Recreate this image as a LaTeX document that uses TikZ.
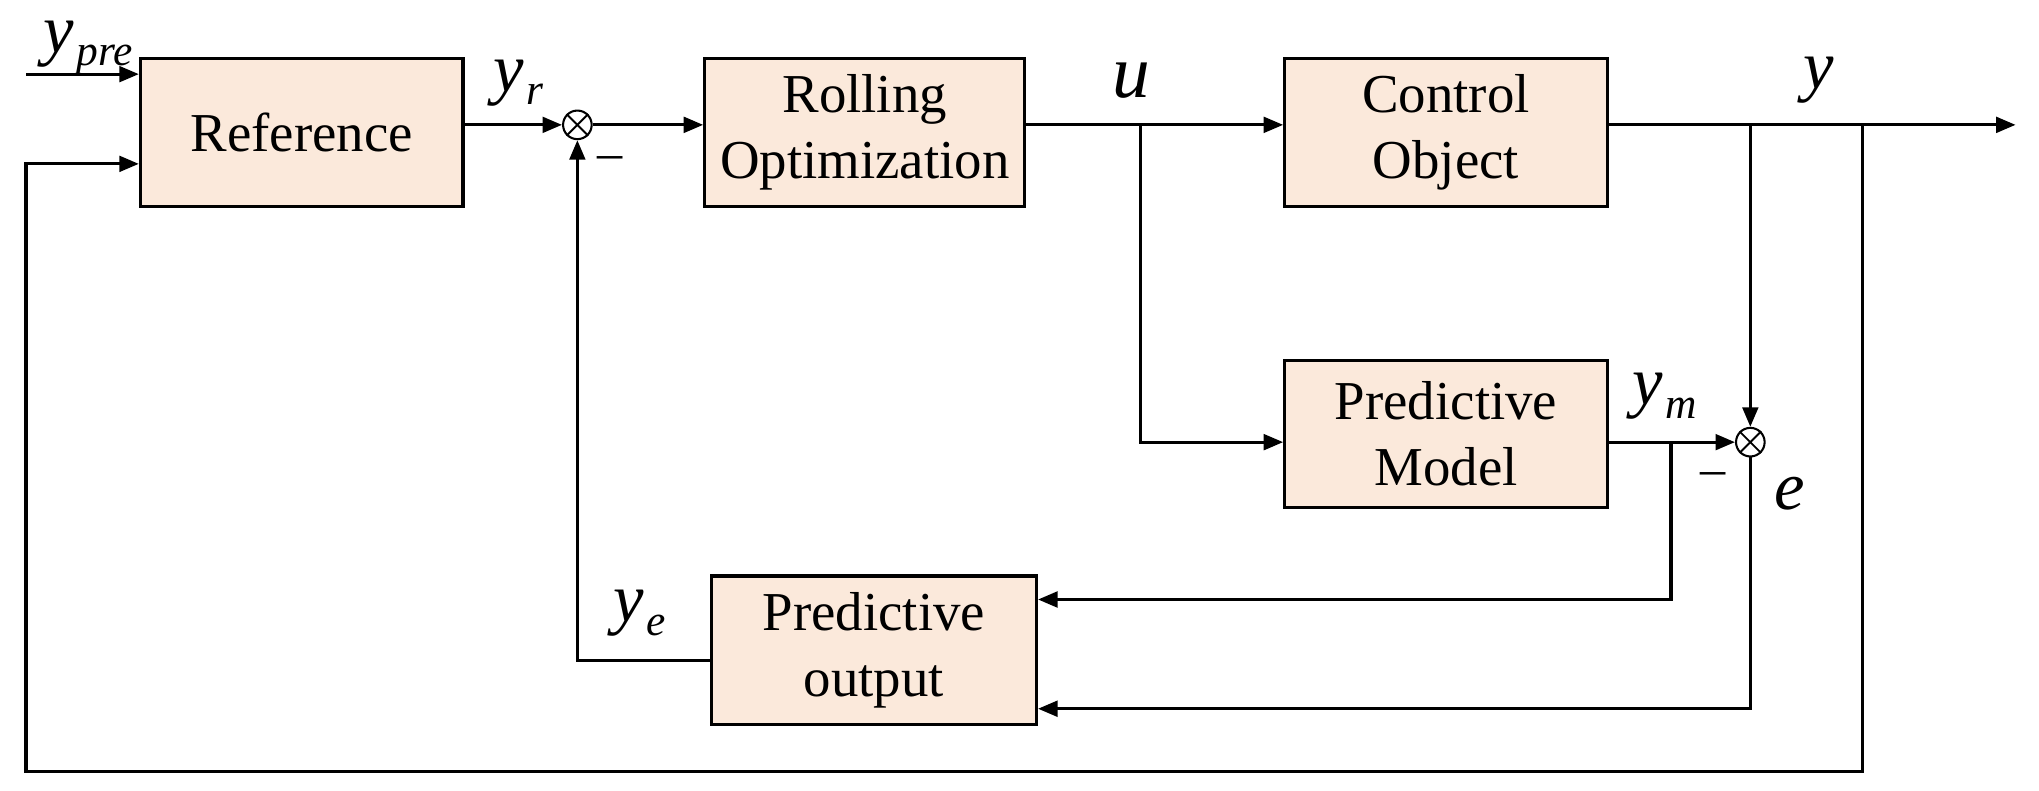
\documentclass[tikz,border=0pt]{standalone}
\usepackage{fontspec}
\setmainfont{Liberation Serif}
\usetikzlibrary{arrows.meta,positioning,calc}
\definecolor{boxfill}{RGB}{251,233,219}
\newcommand{\sig}[2]{\textit{#1}\hspace{0.5pt}\raisebox{-3pt}{\fontsize{9.5}{11}\selectfont\textit{#2}}}

\begin{document}
\begin{tikzpicture}[
    block/.style={draw, line width=0.7pt, fill=boxfill, minimum height=1.14cm,
        align=center, font=\fontsize{12}{14.5}\selectfont},
    sumnode/.style={draw, circle, line width=0.45pt, minimum size=0.22cm, inner sep=0pt},
    lbl/.style={inner sep=0pt, anchor=base west, font=\fontsize{15}{18}\selectfont},
    sgn/.style={inner sep=0pt, font=\fontsize{11}{12}\selectfont},
    arrow/.style={line width=0.7pt, -{Triangle[length=0.15cm, width=0.12cm]}},
    wire/.style={line width=0.7pt}
]
\useasboundingbox (0,0) rectangle (15.68,-6.08);

% blocks
\node[block, minimum width=2.48cm] (ref)   at (2.32,-1.02) {Reference};
\node[block, minimum width=2.36cm] (roll)  at (6.65,-1.02) {Rolling\\Optimization};
\node[block, minimum width=2.48cm] (ctrl)  at (11.12,-1.02) {Control\\Object};
\node[block, minimum width=2.48cm, minimum height=1.13cm] (model) at (11.12,-3.335) {Predictive\\Model};
\node[block, minimum width=2.50cm] (pout)  at (6.72,-5.00) {Predictive\\output};

% summing points
\node[sumnode] (sum1) at (4.44,-0.96) {};
\node[sumnode] (sum2) at (13.46,-3.40) {};
\foreach \s in {sum1,sum2} {
  \draw[line width=0.4pt] (\s.north east) -- (\s.south west)
                          (\s.north west) -- (\s.south east);
}

% branch points
\coordinate (in1) at (0.20,-0.57);
\coordinate (in2) at (0.20,-1.26);
\coordinate (bl)  at (0.20,-5.93);
\coordinate (uj)  at (8.77,-0.96);
\coordinate (yj)  at (13.46,-0.96);
\coordinate (fb)  at (14.32,-0.96);
\coordinate (out) at (15.50,-0.96);
\coordinate (mj)  at (12.85,-3.40);

% forward path
\draw[arrow] (in1) -- (ref.west |- in1);
\draw[arrow] (ref.east |- sum1) -- (sum1);
\draw[arrow] (sum1) -- (roll.west |- sum1);
\draw[arrow] (roll.east |- uj) -- (ctrl.west |- uj);
\draw[arrow] (uj) |- (model.west |- sum2);
\draw[arrow] (ctrl.east |- out) -- (out);

% error and feedback
\draw[arrow] (yj) -- (sum2);
\draw[arrow] (model.east |- sum2) -- (sum2);
\draw[arrow] (mj) |- ([yshift=0.39cm]pout.east);
\draw[arrow] (sum2) |- ([yshift=-0.45cm]pout.east);
\draw[arrow] ([yshift=-0.08cm]pout.west) -| (sum1);
\draw[arrow] (fb) |- (bl) |- (in2 -| ref.west);

% labels
\node[lbl] (lpre) at (0.33,-0.40) {\sig{y}{pre}};
\node[lbl] (lr)   at (3.79,-0.70) {\sig{y}{r}};
\node[lbl, font=\fontsize{16.5}{19}\selectfont] (lu) at (8.55,-0.75) {\textit{u}};
\node[lbl] (ly)   at (13.86,-0.68) {\textit{y}};
\node[lbl] (lm)   at (12.55,-3.11) {\sig{y}{m}};
\node[lbl] (le)   at (13.64,-3.92) {\textit{e}};
\node[lbl] (le2)  at (4.71,-4.78) {\sig{y}{e}};
\node[sgn] (m1)   at (4.69,-1.25) {–};
\node[sgn] (m2)   at (13.17,-3.68) {–};

\end{tikzpicture}
\end{document}
